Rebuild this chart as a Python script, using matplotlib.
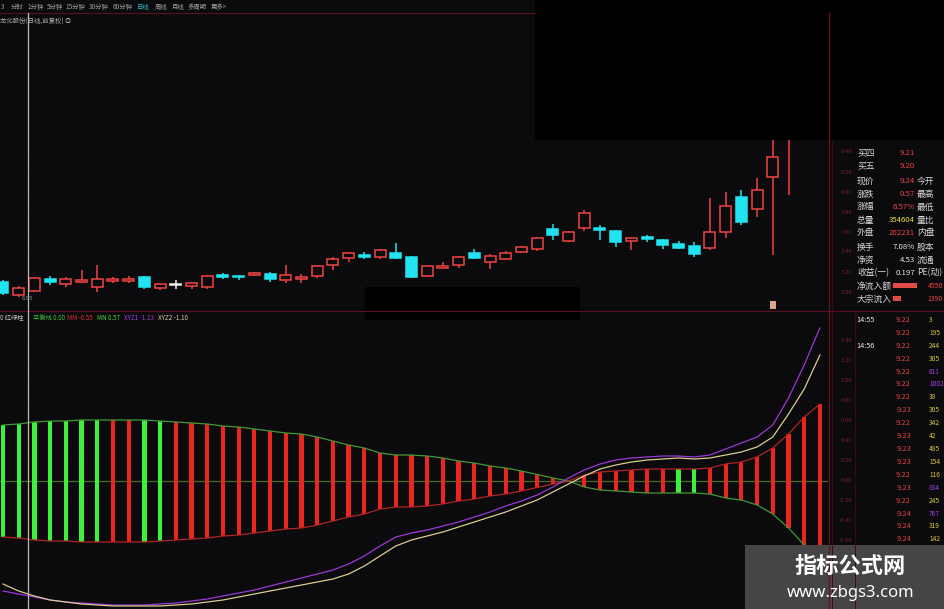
import matplotlib
matplotlib.use('Agg')
import matplotlib.pyplot as plt
from matplotlib.patches import Rectangle
import numpy as np

plt.rcParams['font.family'] = ['Noto Sans CJK SC', 'DejaVu Sans']

W, H = 945, 609
BG = '#0b0a0c'
RED = '#f04444'
CYAN = '#22e4f0'

# ---------------- data ----------------
opens = [7.10, 6.97, 7.01, 7.13, 7.08, 7.10, 7.05, 7.11, 7.11, 7.15,
         7.04, 7.07, 7.06, 7.05, 7.17, 7.16, 7.17, 7.18, 7.12, 7.13,
         7.16, 7.27, 7.34, 7.37, 7.35, 7.39, 7.35, 7.16, 7.24, 7.27,
         7.39, 7.30, 7.33, 7.40, 7.43, 7.63, 7.51, 7.64, 7.64, 7.61,
         7.51, 7.55, 7.52, 7.48, 7.46, 7.44, 7.60, 7.95, 7.83, 8.15,
         8.67, 8.90, 8.70]
highs = [7.12, 7.06, 7.15, 7.16, 7.15, 7.22, 7.27, 7.15, 7.16, 7.16,
         7.09, 7.12, 7.10, 7.17, 7.19, 7.17, 7.20, 7.20, 7.27, 7.18,
         7.27, 7.35, 7.40, 7.40, 7.43, 7.49, 7.36, 7.27, 7.30, 7.36,
         7.43, 7.38, 7.41, 7.46, 7.55, 7.68, 7.61, 7.82, 7.67, 7.62,
         7.55, 7.57, 7.53, 7.51, 7.50, 7.94, 8.00, 8.02, 8.14, 8.67,
         9.07, 9.05, 9.30]
lows = [6.97, 6.95, 7.00, 7.07, 7.05, 7.09, 7.00, 7.09, 7.09, 7.03,
        7.02, 7.03, 7.03, 7.03, 7.13, 7.12, 7.16, 7.10, 7.09, 7.09,
        7.14, 7.22, 7.30, 7.33, 7.33, 7.33, 7.14, 7.15, 7.24, 7.24,
        7.33, 7.23, 7.32, 7.39, 7.41, 7.52, 7.50, 7.61, 7.52, 7.45,
        7.42, 7.50, 7.43, 7.43, 7.35, 7.42, 7.54, 7.67, 7.75, 7.37,
        7.97, 8.60, 8.66]
closes = [6.99, 7.04, 7.14, 7.10, 7.13, 7.12, 7.13, 7.13, 7.13, 7.05,
          7.08, 7.07, 7.09, 7.16, 7.15, 7.15, 7.19, 7.13, 7.17, 7.15,
          7.26, 7.33, 7.39, 7.35, 7.42, 7.34, 7.15, 7.26, 7.26, 7.35,
          7.34, 7.36, 7.39, 7.45, 7.54, 7.57, 7.60, 7.79, 7.62, 7.50,
          7.54, 7.53, 7.47, 7.44, 7.38, 7.60, 7.86, 7.70, 8.02, 8.35,
          8.92, 8.67, 9.24]

# indicator: MN (green band line), MM = mirror (red band line)
mn = [0.56, 0.57, 0.59, 0.60, 0.60, 0.61, 0.61, 0.61, 0.61, 0.61,
      0.60, 0.59, 0.58, 0.57, 0.55, 0.54, 0.52, 0.50, 0.48, 0.47,
      0.44, 0.40, 0.36, 0.33, 0.28, 0.26, 0.26, 0.25, 0.23, 0.20,
      0.18, 0.15, 0.13, 0.10, 0.065, 0.03, 0.0, -0.06, -0.09, -0.10,
      -0.11, -0.12, -0.12, -0.12, -0.12, -0.13, -0.17, -0.19, -0.24, -0.33,
      -0.47, -0.64, -0.77]
xyz1 = [-1.10, -1.13, -1.16, -1.19, -1.21, -1.22, -1.23, -1.24, -1.24, -1.24,
        -1.23, -1.22, -1.20, -1.18, -1.15, -1.12, -1.09, -1.05, -1.01, -0.97,
        -0.93, -0.89, -0.83, -0.75, -0.65, -0.56, -0.52, -0.49, -0.45, -0.41,
        -0.36, -0.31, -0.25, -0.20, -0.14, -0.06, 0.03, 0.11, 0.17, 0.21,
        0.23, 0.24, 0.25, 0.25, 0.24, 0.26, 0.32, 0.38, 0.44, 0.56,
        0.83, 1.16, 1.53]
xyz2 = [-1.03, -1.10, -1.15, -1.19, -1.21, -1.23, -1.24, -1.25, -1.25, -1.25,
        -1.25, -1.24, -1.23, -1.21, -1.19, -1.16, -1.13, -1.10, -1.07, -1.04,
        -1.01, -0.98, -0.93, -0.85, -0.75, -0.65, -0.59, -0.55, -0.51, -0.46,
        -0.41, -0.36, -0.31, -0.25, -0.19, -0.11, -0.03, 0.05, 0.12, 0.16,
        0.19, 0.21, 0.22, 0.23, 0.22, 0.23, 0.26, 0.29, 0.34, 0.44,
        0.67, 0.92, 1.26]
green_bars = [0, 1, 2, 3, 4, 5, 6, 9, 10, 43, 44]

toolbar = [('3', 1), ('分时', 11), ('1分钟', 27), ('5分钟', 47), ('15分钟', 65),
           ('30分钟', 89), ('60分钟', 113), ('日线', 137), ('周线', 155),
           ('月线', 172), ('多周期', 188), ('更多>', 211)]
price_ticks = [8.40, 8.20, 8.00, 7.80, 7.60, 7.40, 7.20, 7.00]
ind_ticks = [1.40, 1.20, 1.00, 0.80, 0.60, 0.40, 0.20, 0.00, -0.20, -0.40, -0.60]

info_rows = [
    ('买四', '9.21', RED, ''),
    ('买五', '9.20', RED, ''),
    ('现价', '9.24', RED, '今开'),
    ('涨跌', '0.57', RED, '最高'),
    ('涨幅', '6.57%', RED, '最低'),
    ('总量', '354604', '#e6e040', '量比'),
    ('外盘', '202231', RED, '内盘'),
    ('换手', '7.08%', '#e8e8e8', '股本'),
    ('净资', '4.53', '#e8e8e8', '流通'),
    ('收益(一)', '0.197', '#e8e8e8', 'PE(动)'),
]
info_y = [153, 166, 181, 194, 207, 220, 233, 247, 260, 273]

tick_times = ['14:55', '', '14:56'] + [''] * 15
tick_prices = ['9.22', '9.22', '9.22', '9.22', '9.22', '9.22', '9.22', '9.23', '9.22',
               '9.23', '9.23', '9.23', '9.22', '9.23', '9.22', '9.24', '9.24', '9.24']
tick_vols = ['3', '195', '244', '305', '611', '1002', '38', '305', '342',
             '42', '485', '154', '116', '834', '245', '767', '319', '142']
big_vols = {'611', '1002', '834', '767'}

# ---------------- layout helpers ----------------
def frect(x, y, w, h):
    return [x / W, 1 - (y + h) / H, w / W, h / H]

X0, DX = 3.0, 15.71
n = len(closes)
idx = np.arange(n)
XLIM = (-X0 / DX, (828 - X0) / DX)

fig = plt.figure(figsize=(W / 100, H / 100), dpi=100, facecolor=BG)

# ---------------- price panel ----------------
ax_p = fig.add_axes(frect(0, 13, 828, 292))
ax_p.set_facecolor(BG)
ax_p.set_xlim(*XLIM)
ax_p.set_ylim(9.92 - 305 / 100, 9.92 - 13 / 100)
ax_p.axis('off')
for t in price_ticks:
    ax_p.axhline(t, color='#1c0a0c', lw=0.5, ls=(0, (1, 3)), zorder=0)
for i in range(n):
    o, h, l, c = opens[i], highs[i], lows[i], closes[i]
    if c > o:
        col, fill = RED, BG
    elif c < o:
        col, fill = CYAN, CYAN
    else:
        col, fill = '#f0f0f0', '#f0f0f0'
    ax_p.vlines(i, l, h, color=col, lw=1.1, zorder=2)
    bot = min(o, c)
    ht = max(abs(c - o), 0.012)
    ax_p.add_patch(Rectangle((i - 0.35, bot), 0.7, ht, facecolor=fill,
                             edgecolor=col, lw=1.1, zorder=3))

# ---------------- indicator panel ----------------
ax_i = fig.add_axes(frect(0, 310, 828, 299))
ax_i.set_facecolor(BG)
ax_i.set_xlim(*XLIM)
ax_i.set_ylim((481 - 609) / 100, (481 - 310) / 100)
ax_i.axis('off')
for t in ind_ticks:
    if t != 0:
        ax_i.axhline(t, color='#1e0a0c', lw=0.5, ls=(0, (1, 3)), zorder=0)
ax_i.axhline(0, color='#4a6a28', lw=0.9, zorder=1)
mn_arr = np.array(mn)
amp = np.abs(mn_arr)
bar_cols = ['#3cf03c' if i in green_bars else '#e8261e' for i in range(n)]
ax_i.bar(idx, 2 * amp, bottom=-amp, width=0.27, color=bar_cols, zorder=2)
ax_i.plot(idx, mn_arr, color='#3f9a35', lw=0.9, zorder=3)
ax_i.plot(idx, -mn_arr, color='#b02424', lw=0.9, zorder=3)
ax_i.plot(idx, xyz1, color='#9c38d8', lw=0.9, zorder=4)
ax_i.plot(idx, xyz2, color='#d8cc90', lw=0.9, zorder=4)

# ---------------- overlay (pixel coordinates) ----------------
ov = fig.add_axes([0, 0, 1, 1], zorder=10)
ov.set_xlim(0, W)
ov.set_ylim(H, 0)
ov.axis('off')
ov.patch.set_alpha(0)

def txt(x, y, s, c, fs=4.6, **kw):
    ov.text(x, y, s, color=c, fontsize=fs, va='center', **kw)

# toolbar & title
for s, x in toolbar:
    txt(x, 7, s, '#39b8c8' if s == '日线' else '#a0a0a0', fs=4.6)
ov.plot([0, 535], [13, 13], color='#5a1222', lw=0.8)
txt(0, 22, '龙化股份(日线,前复权) ◎', '#a8a8a8', fs=4.6)

# frame lines
ov.plot([829, 829], [13, H], color='#6a1418', lw=0.9)
ov.plot([832, 832], [140, H], color='#3a0c10', lw=0.7)
ov.plot([855, 855], [313, H], color='#3a0c10', lw=0.7)
ov.plot([0, W], [311, 311], color='#5a1020', lw=0.8)

# price axis labels
for t in price_ticks:
    txt(852, (9.92 - t) * 100, f'{t:.2f}', '#7a2226', fs=4.3, ha='right')
for t in ind_ticks:
    txt(852, 481 - t * 100, f'{t:.2f}', '#7a2226', fs=4.3, ha='right')

# low marker
txt(22, 298, '6.95', '#9a9a9a', fs=4.2)

# indicator header
hdr = [('0 红绿柱', 0, '#c8c8c8'), ('平衡线 0.00', 33, '#3cc83c'),
       ('MM -0.55', 67, '#e03030'), ('MN 0.57', 97, '#3cd83c'),
       ('XYZ1 -1.13', 124, '#a040e0'), ('XYZ2 -1.10', 158, '#d8d0a0')]
for s, x, c in hdr:
    txt(x, 318, s, c, fs=4.5)

# crosshair
ov.plot([27.5, 27.5], [13, H], color='#b8b8b8', lw=0.9)

# masking blocks
ov.add_patch(Rectangle((535, 0), 410, 140, facecolor='#000000', edgecolor='none'))
ov.add_patch(Rectangle((365, 287), 215, 33, facecolor='#000000', edgecolor='none'))
ov.add_patch(Rectangle((770, 301), 6, 8, facecolor='#d8a888', edgecolor='none'))

# info panel
for (lab, val, vc, rlab), y in zip(info_rows, info_y):
    txt(857, y, lab, '#d8d8d8', fs=6.3)
    txt(915, y, val, vc, fs=5.6, ha='right')
    if rlab:
        txt(917, y, rlab, '#d8d8d8', fs=6.3)
txt(857, 286, '净流入额', '#d8d8d8', fs=6.3)
ov.add_patch(Rectangle((893, 283), 24, 5, facecolor='#e24a4a', edgecolor='none'))
txt(943, 286, '4550', RED, fs=5.0, ha='right')
txt(857, 299, '大宗流入', '#d8d8d8', fs=6.3)
ov.add_patch(Rectangle((893, 296), 8, 5, facecolor='#e24a4a', edgecolor='none'))
txt(943, 299, '1390', RED, fs=5.0, ha='right')

# tick list
for k in range(len(tick_prices)):
    y = 320 + k * 12.9
    if tick_times[k]:
        txt(856, y, tick_times[k], '#e8e8e8', fs=5.2)
    txt(911, y, tick_prices[k], '#e04444', fs=5.4, ha='right')
    vc = '#a040e0' if tick_vols[k] in big_vols else '#d8c840'
    txt(929, y, tick_vols[k], vc, fs=4.8)

# watermark
ov.add_patch(Rectangle((745, 545), 200, 64, facecolor='#454545', edgecolor='none'))
ov.text(850, 566, '指标公式网', color='white', fontsize=16, fontweight='bold',
        ha='center', va='center')
ov.text(851, 593, 'www.zbgs3.com', color='white', fontsize=12,
        ha='center', va='center', family=['Noto Sans', 'DejaVu Sans'])

fig.savefig('out.png', dpi=100, facecolor=BG)
